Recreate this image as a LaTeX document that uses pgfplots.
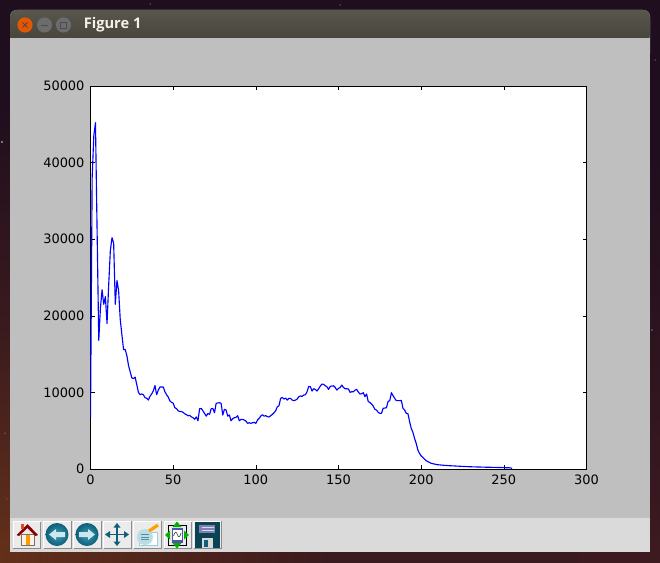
\documentclass[border=0pt]{standalone}
\usepackage{fontspec}
\setmainfont{DejaVu Sans}
\newfontfamily\titlefont{Open Sans}
\usepackage{pgfplots}
\pgfplotsset{compat=1.18}
\definecolor{wintop}{HTML}{59564C}
\definecolor{winbot}{HTML}{45433B}
\definecolor{panel}{HTML}{BFBFBF}
\definecolor{tbar}{HTML}{DADADA}
\definecolor{teal1}{HTML}{3A9DB8}
\definecolor{teal2}{HTML}{0F5F78}
\definecolor{wall1}{HTML}{1F0E1E}
\definecolor{wallL}{HTML}{63301A}
\definecolor{wallR}{HTML}{3C1A20}
\definecolor{wallM}{HTML}{3A1A1E}
\newcommand\btn[1]{\fill[white!92!black] (#1,521) rectangle ++(27.5,27);
  \draw[black!45,line width=.5pt] (#1+27.5,521) -- ++(0,27) -- ++(-27.5,0);
  \draw[white,line width=.5pt] (#1,548) -- ++(0,-27) -- ++(27.5,0);}
\begin{document}
\begin{tikzpicture}[x=.75pt,y=.75pt]
\useasboundingbox (0,0) rectangle (660,562);
% desktop, window and toolbar, in screen pixels
\begin{scope}[yshift=421.5pt,y=-.75pt]
\fill[wall1] (0,0) rectangle (660,562);
\shade[top color=wall1,bottom color=wallL,middle color=wallM] (0,100) rectangle (10,552);
\shade[top color=wall1,bottom color=wallR] (650,150) rectangle (660,552);
\shade[left color=wallL,right color=wallR,middle color=wallM] (0,552) rectangle (660,562);
\fill[white!70!gray] (2,142) circle (.8) (652,330) circle (.6) (340,5) circle (.5) (150,4) circle (.5) (655,60) circle (.5) (5,433) circle (.5) (7,499) circle (.4);
\fill[panel,rounded corners=5pt] (10,10) rectangle (650,60);
\fill[panel] (10,38) rectangle (650,552);
\shade[top color=wintop,bottom color=winbot,rounded corners=5pt] (10,10) rectangle (650,42);
\fill[panel] (10,38) rectangle (650,60);
\fill[tbar] (10,518) rectangle (650,552);
% window buttons
\fill[orange!75!red!90!black] (25,25) circle (7.6);
\draw[black!70,line width=.6pt] (22.5,22.5) -- (27.5,27.5) (22.5,27.5) -- (27.5,22.5);
\fill[black!15!gray] (44.5,25) circle (7.6);
\fill[black!15!gray] (63.5,25) circle (7.6);
\draw[black!70,line width=.7pt] (41,25) -- (48,25);
\draw[black!70,line width=.7pt] (60.5,22) rectangle (66.5,28);
\node[anchor=west,inner sep=0pt,text=white!88!brown] at (83.5,25) {\titlefont\bfseries\fontsize{11pt}{13pt}\selectfont Figure 1};
% toolbar icons
\btn{13.3}\btn{43.5}\btn{73.5}\btn{103.5}\btn{133.5}\btn{164}\btn{193.5}
\fill[white!88!orange] (21,534) rectangle (34,545);
\fill[orange!80!yellow] (25.5,534) rectangle (30,545);
\draw[black!55,line width=.4pt] (21,534) rectangle (34,545);
\fill[red!55!black] (16.5,535) -- (27.5,524) -- (38,535) -- (35.5,536) -- (27.5,528) -- (19,536) -- cycle;
\fill[red!40!brown] (21,524) rectangle (23.5,529);
\shade[inner color=teal1,outer color=teal2] (57,534.5) circle (11.5);
\shade[inner color=teal1,outer color=teal2] (87,534.5) circle (11.5);
\fill[white!75!teal1] (49,534.5) -- (56,529) -- (56,532) -- (65,532) -- (65,537) -- (56,537) -- (56,540) -- cycle;
\fill[white!75!teal1] (95,534.5) -- (88,529) -- (88,532) -- (79,532) -- (79,537) -- (88,537) -- (88,540) -- cycle;
\draw[teal2,line width=1.4pt] (106,534.5) -- (128,534.5) (117,524) -- (117,545);
\fill[teal2] (105,534.5) -- (110,531) -- (110,538) -- cycle (129,534.5) -- (124,531) -- (124,538) -- cycle
 (117,523) -- (113.5,527.5) -- (120.5,527.5) -- cycle (117,546) -- (113.5,541.5) -- (120.5,541.5) -- cycle;
\fill[white] (139,532) rectangle (157,545);
\draw[teal1!50,line width=.6pt] (139,532) rectangle (157,545);
\fill[teal1!35] (145,537) circle (8);
\draw[teal2!70,line width=.6pt] (141,534.5) -- (149,534.5) (141,537) -- (149,537) (141,539.5) -- (149,539.5);
\draw[orange!75!yellow,line width=2.4pt] (149,531) -- (158,525);
\draw[black,line width=.7pt] (168,525) rectangle (186,545);
\fill[blue!35!gray] (171.5,527.5) rectangle (183,542.5);
\fill[white] (173,530) rectangle (181.5,539.5);
\draw[black!70,line width=.5pt] (173.5,536) .. controls (175,531) and (176.5,531) .. (177.5,535) .. controls (178.5,538) and (180,537) .. (181,533);
\fill[green!70!black] (177,521.5) -- (172.5,527) -- (181.5,527) -- cycle (177,548.5) -- (172.5,543) -- (181.5,543) -- cycle
 (165,535) -- (170,530.5) -- (170,539.5) -- cycle (189,535) -- (184,530.5) -- (184,539.5) -- cycle;
\fill[teal2!70!black] (194.5,522) rectangle (219.5,548);
\fill[blue!25!gray!80!white] (199,524.5) rectangle (215,533);
\draw[white!80!teal2,line width=.5pt] (202,527) -- (214,527) (202,530) -- (214,530);
\fill[white!70!gray] (202,538) rectangle (213,548);
\fill[teal2] (204,540) rectangle (207.5,546.5);
\end{scope}
\begin{axis}[
  at={(67.875pt,69.75pt)}, anchor=south west, scale only axis,
  width=372pt, height=287.25pt,
  xmin=0, xmax=300, ymin=0, ymax=50000,
  xtick={0,50,...,300}, ytick={0,10000,...,50000},
  scaled ticks=false,
  /pgf/number format/assume math mode=true,
  /pgf/number format/1000 sep={},
  tick align=inside, tick pos=both,
  major tick length=3pt,
  tick style={black,line width=.4pt},
  axis line style={black,line width=.75pt},
  axis background/.style={fill=white},
  ticklabel style={font=\fontsize{9.7pt}{11pt}\selectfont,text=black},
  xticklabel style={yshift=-1pt},
  yticklabel style={xshift=-1pt},
]
\addplot[blue, line width=.85pt, line join=round, no markers] coordinates {
(0,6700)(1,38000)(2,43500)(3,45200)(4,31000)(5,16800)(6,21000)(7,23400)(8,21500)(9,22500)
(10,19000)(11,24000)(12,28500)(13,30200)(14,29500)(15,21500)(16,24600)(17,23300)(18,19500)(19,17500)
(20,15600)(21,15600)(22,14800)(23,13500)(24,12700)(25,11900)(26,11800)(27,12000)(28,11000)(29,10000)
(30,9700)(31,9800)(32,9700)(33,9300)(34,9250)(35,9000)(36,9500)(37,9800)(38,10200)(39,10900)
(40,9700)(41,10300)(42,10700)(43,10700)(44,10700)(45,10100)(46,9700)(47,9400)(48,8900)(49,8700)
(50,8600)(51,8000)(52,7900)(53,7600)(54,7500)(55,7500)(56,7400)(57,7200)(58,7100)(59,6950)
(60,7000)(61,6800)(62,6700)(63,6500)(64,6800)(65,6300)(66,7870)(67,7900)(68,7600)(69,7250)
(70,6900)(71,7250)(72,7130)(73,7870)(74,7900)(75,7350)(76,8570)(77,8620)(78,8660)(79,8570)
(80,7050)(81,7790)(82,7700)(83,6910)(84,7050)(85,6300)(86,6570)(87,6700)(88,6740)(89,6960)
(90,6300)(91,6480)(92,6480)(93,6390)(94,6260)(95,5960)(96,6040)(97,5960)(98,6040)(99,6090)
(100,5960)(101,6390)(102,6610)(103,6910)(104,7090)(105,6910)(106,6960)(107,6830)(108,6790)(109,6960)
(110,7130)(111,7350)(112,7600)(113,8130)(114,8260)(115,9220)(116,9350)(117,9130)(118,9260)(119,9000)
(120,9220)(121,9220)(122,9000)(123,8920)(124,9000)(125,9130)(126,9440)(127,9530)(128,9480)(129,9660)
(130,9700)(131,10090)(132,10790)(133,10740)(134,10180)(135,10480)(136,10390)(137,10180)(138,10480)(139,10830)
(140,11090)(141,11050)(142,10870)(143,10740)(144,10390)(145,10790)(146,10830)(147,10870)(148,10650)(149,10300)
(150,10520)(151,10650)(152,10960)(153,10650)(154,10480)(155,10480)(156,10440)(157,10000)(158,10090)(159,10090)
(160,10300)(161,10390)(162,10050)(163,9790)(164,9830)(165,9960)(166,9440)(167,9790)(168,8790)(169,8700)
(170,8480)(171,8220)(172,7790)(173,7700)(174,7400)(175,7270)(176,7270)(177,7920)(178,7960)(179,8000)
(180,8830)(181,8920)(182,9960)(183,9570)(184,9220)(185,8920)(186,8920)(187,8920)(188,8960)(189,7920)
(190,7700)(191,7270)(192,7220)(193,6180)(194,5310)(195,4790)(196,4000)(197,3350)(198,2480)(199,2050)
(200,1700)(201,1520)(202,1300)(203,1090)(204,960)(205,870)(206,740)(207,700)(208,650)(209,600)
(210,560)(212,520)(214,480)(216,450)(218,420)(220,400)(225,340)(230,290)(235,260)(240,230)
(245,210)(250,180)(253,160)(254,150)(255,60)
};
\end{axis}
\end{tikzpicture}
\end{document}
